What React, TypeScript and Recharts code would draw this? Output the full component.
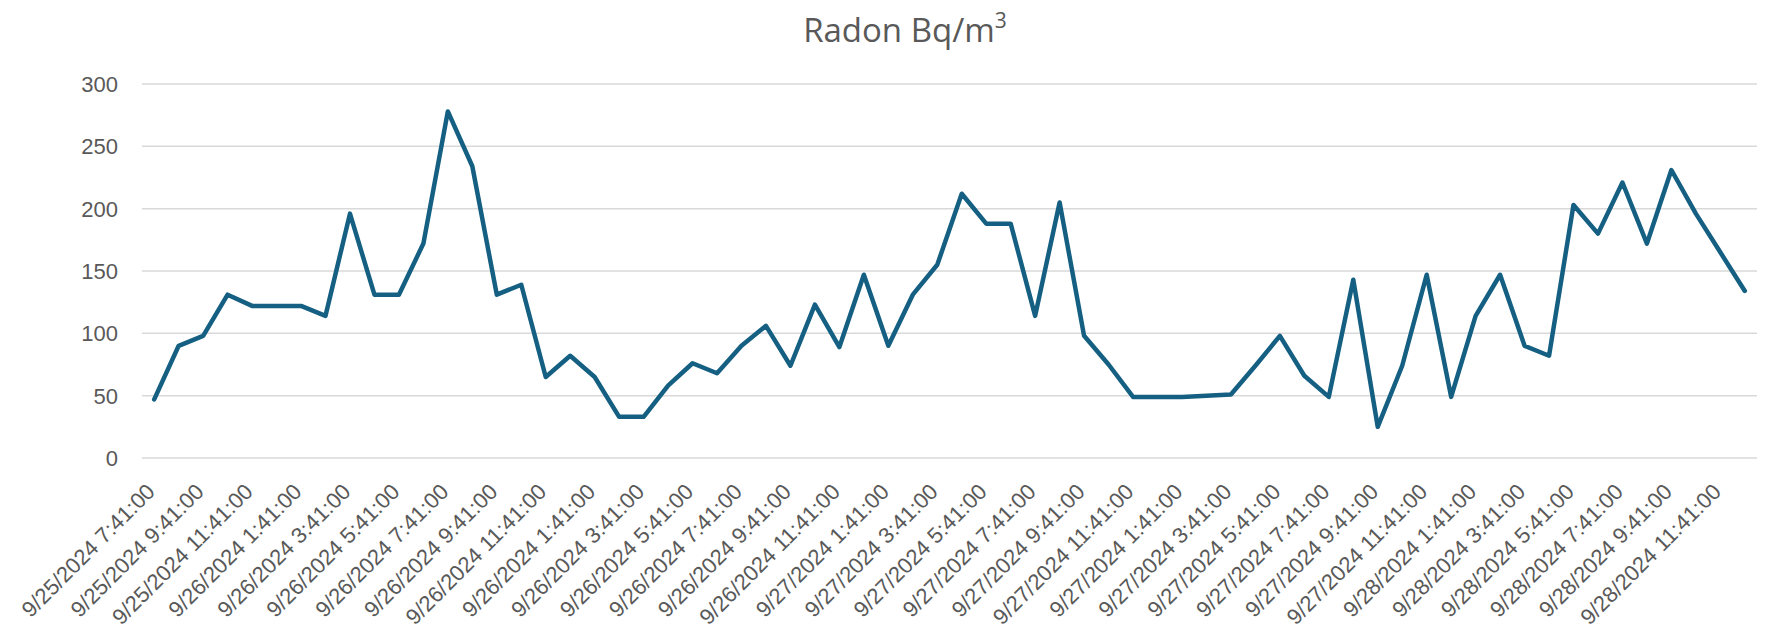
import React from "react";
import { LineChart, Line, XAxis, YAxis, CartesianGrid } from "recharts";

const categories: string[] = [
  "9/25/2024 7:41:00", "9/25/2024 8:41:00", "9/25/2024 9:41:00", "9/25/2024 10:41:00", "9/25/2024 11:41:00", "9/25/2024 12:41:00",
  "9/26/2024 1:41:00", "9/26/2024 2:41:00", "9/26/2024 3:41:00", "9/26/2024 4:41:00", "9/26/2024 5:41:00", "9/26/2024 6:41:00",
  "9/26/2024 7:41:00", "9/26/2024 8:41:00", "9/26/2024 9:41:00", "9/26/2024 10:41:00", "9/26/2024 11:41:00", "9/26/2024 12:41:00",
  "9/26/2024 1:41:00", "9/26/2024 2:41:00", "9/26/2024 3:41:00", "9/26/2024 4:41:00", "9/26/2024 5:41:00", "9/26/2024 6:41:00",
  "9/26/2024 7:41:00", "9/26/2024 8:41:00", "9/26/2024 9:41:00", "9/26/2024 10:41:00", "9/26/2024 11:41:00", "9/26/2024 12:41:00",
  "9/27/2024 1:41:00", "9/27/2024 2:41:00", "9/27/2024 3:41:00", "9/27/2024 4:41:00", "9/27/2024 5:41:00", "9/27/2024 6:41:00",
  "9/27/2024 7:41:00", "9/27/2024 8:41:00", "9/27/2024 9:41:00", "9/27/2024 10:41:00", "9/27/2024 11:41:00", "9/27/2024 12:41:00",
  "9/27/2024 1:41:00", "9/27/2024 2:41:00", "9/27/2024 3:41:00", "9/27/2024 4:41:00", "9/27/2024 5:41:00", "9/27/2024 6:41:00",
  "9/27/2024 7:41:00", "9/27/2024 8:41:00", "9/27/2024 9:41:00", "9/27/2024 10:41:00", "9/27/2024 11:41:00", "9/27/2024 12:41:00",
  "9/28/2024 1:41:00", "9/28/2024 2:41:00", "9/28/2024 3:41:00", "9/28/2024 4:41:00", "9/28/2024 5:41:00", "9/28/2024 6:41:00",
  "9/28/2024 7:41:00", "9/28/2024 8:41:00", "9/28/2024 9:41:00", "9/28/2024 10:41:00", "9/28/2024 11:41:00", "9/28/2024 12:41:00",
];

const radon: number[] = [
  47, 90, 98, 131, 122, 122, 122, 114, 196, 131, 131, 172, 278, 234, 131, 139, 65, 82,
  65, 33, 33, 58, 76, 68, 90, 106, 74, 123, 89, 147, 90, 131, 155, 212, 188, 188,
  114, 205, 98, 75, 49, 49, 49, 50, 51, 74, 98, 66, 49, 143, 25, 74, 147, 49,
  114, 147, 90, 82, 203, 180, 221, 172, 231, 196, 165, 134,
];

const yTicks: number[] = [0, 50, 100, 150, 200, 250, 300];

const data = categories.map((c, i) => ({ time: c, radon: radon[i] }));

const TEXT = "#595959";
const TICK_FONT = "'Liberation Sans', Arial, sans-serif";

const XTick = (props: any) => {
  const { x, y, payload } = props;
  return (
    <text
      x={x + 2}
      y={y + 27}
      transform={`rotate(-45, ${x + 2}, ${y + 27})`}
      textAnchor="end"
      fontSize={22}
      fontFamily={TICK_FONT}
      fill={TEXT}
    >
      {payload.value}
    </text>
  );
};

const YTick = (props: any) => {
  const { y, payload } = props;
  return (
    <text x={118} y={y + 8} textAnchor="end" fontSize={22} fontFamily={TICK_FONT} fill={TEXT}>
      {payload.value}
    </text>
  );
};

export default function App() {
  return (
    <div style={{ position: "absolute", left: 0, top: 0, width: 1772, height: 632, background: "#fff" }}>
      <LineChart width={1772} height={632} data={data} margin={{ top: 84, right: 15, bottom: 0, left: 0 }}>
        <CartesianGrid horizontal vertical={false} stroke="#d9d9d9" strokeWidth={1.5} />
        <XAxis
          dataKey="time"
          interval={1}
          height={174}
          axisLine={false}
          tickLine={false}
          padding={{ left: 12.2, right: 12.2 }}
          tick={<XTick />}
        />
        <YAxis
          width={142}
          domain={[0, 300]}
          ticks={yTicks}
          axisLine={false}
          tickLine={false}
          tick={<YTick />}
        />
        <Line
          type="linear"
          dataKey="radon"
          stroke="#156082"
          strokeWidth={4.5}
          strokeLinejoin="round"
          strokeLinecap="round"
          dot={false}
          isAnimationActive={false}
        />
      </LineChart>
      <svg width={1772} height={80} style={{ position: "absolute", left: 0, top: 0 }}>
        <text x={905} y={42} textAnchor="middle" fontSize={33} fontFamily="'Open Sans', sans-serif" fill={TEXT}>
          Radon Bq/m
          <tspan dy={-14} fontSize={21}>3</tspan>
        </text>
      </svg>
    </div>
  );
}
